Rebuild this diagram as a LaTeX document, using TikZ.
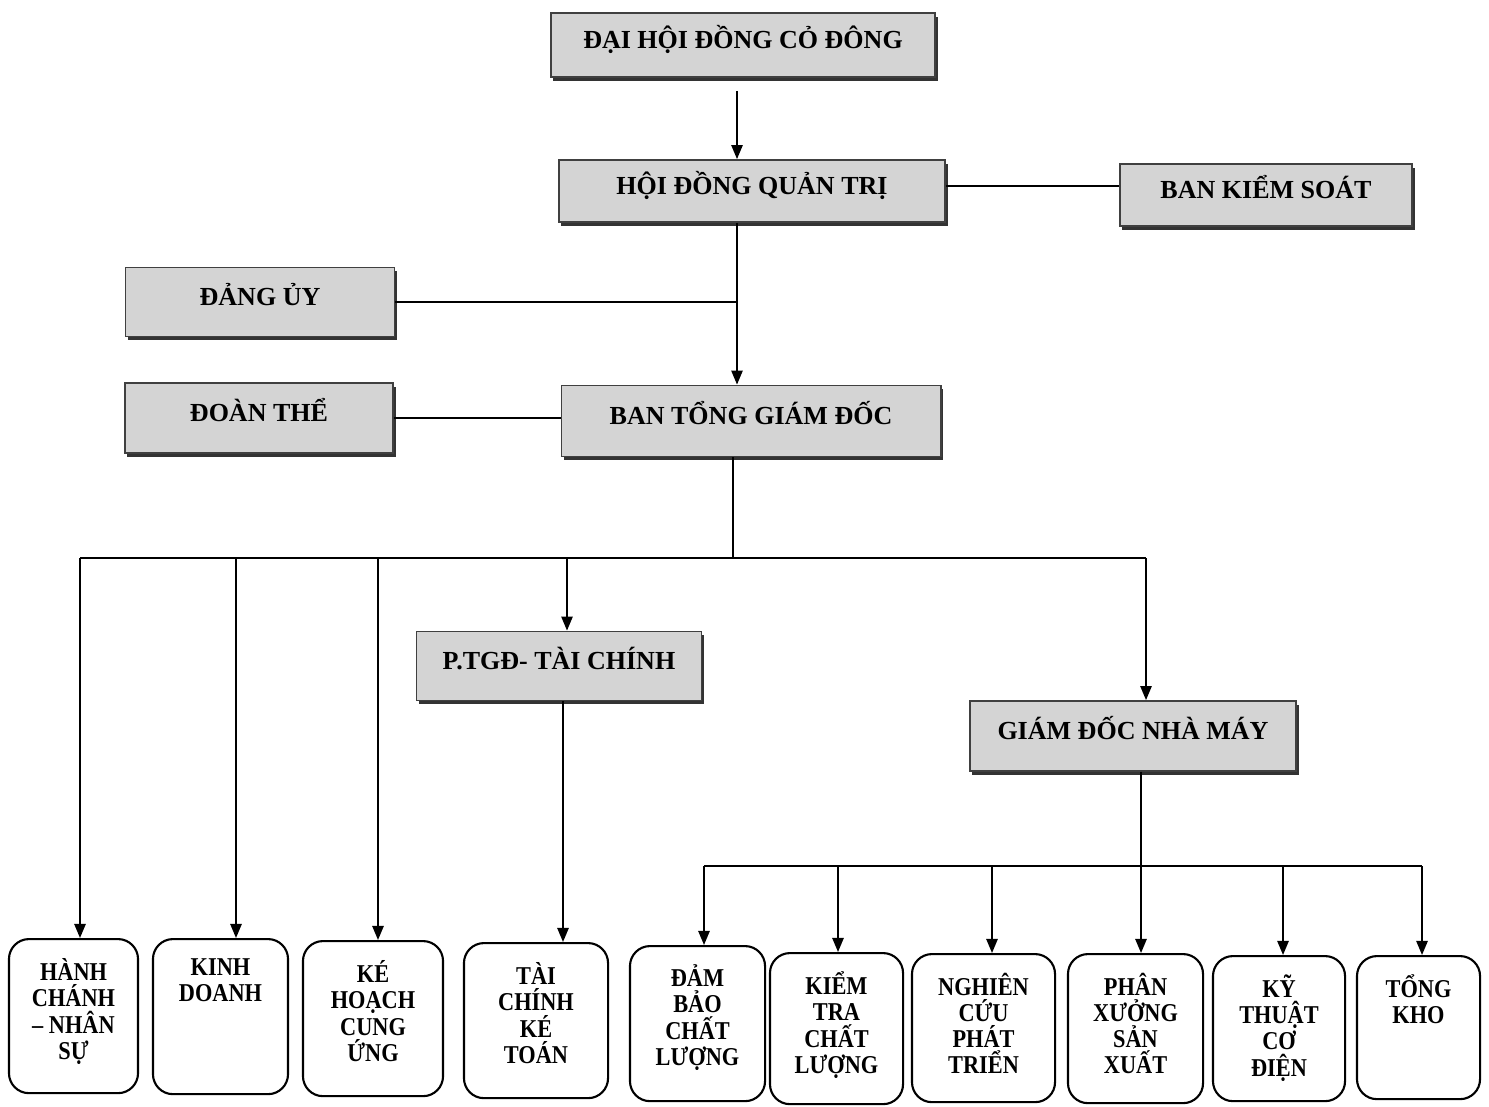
\documentclass[tikz,border=0pt]{standalone}
\usepackage{fontspec}
\setmainfont{Liberation Serif}
\newfontfamily\narrowserif{Liberation Serif}[FakeStretch=0.87]
\usetikzlibrary{arrows.meta,shadows,calc}
\begin{document}
\begin{tikzpicture}[x=0.01cm,y=-0.01cm,
  gbox/.style={draw=black!75, line width=0.5pt, fill=black!17, inner sep=0pt,
    text height=0.17cm, text depth=0.10cm,
    font=\bfseries\fontsize{7.4}{8.5}\selectfont,
    drop shadow={shadow xshift=0.7pt, shadow yshift=-1.1pt, fill=black!80, opacity=1}},
  leaf/.style={draw=black, line width=0.6pt, rounded corners=0.2cm, fill=white, inner sep=0pt, anchor=north},
  leaftext/.style={anchor=north, align=center, inner sep=0pt,
    font=\narrowserif\bfseries\fontsize{7.3}{7.45}\selectfont},
  conn/.style={draw=black, line width=0.55pt},
  arr/.style={conn, -{Triangle[length=4pt,width=3.2pt]}}]
\useasboundingbox (0,0) rectangle (1489,1106);

% gray boxes
\node[gbox, minimum width=3.84cm, minimum height=0.64cm] (dh) at (743,45) {ĐẠI HỘI ĐỒNG CỎ ĐÔNG};
\node[gbox, minimum width=3.86cm, minimum height=0.62cm] (hq) at (752,191) {HỘI ĐỒNG QUẢN TRỊ};
\node[gbox, minimum width=2.92cm, minimum height=0.62cm] (bks) at (1266,195) {BAN KIỂM SOÁT};
\node[gbox, minimum width=2.69cm, minimum height=0.69cm] (du) at (260,302) {ĐẢNG ỦY};
\node[gbox, minimum width=2.68cm, minimum height=0.70cm] (dt) at (259,418) {ĐOÀN THỂ};
\node[gbox, minimum width=3.79cm, minimum height=0.71cm] (bt) at (751,421) {BAN TỔNG GIÁM ĐỐC};
\node[gbox, minimum width=2.85cm, minimum height=0.69cm] (ptc) at (559,666) {P.TGĐ- TÀI CHÍNH};
\node[gbox, minimum width=3.26cm, minimum height=0.70cm] (gd) at (1133,736) {GIÁM ĐỐC NHÀ MÁY};

% bottom boxes
\node[leaf, minimum width=1.29cm, minimum height=1.54cm] (b1) at (73.5,938) {};
\node[leaf, minimum width=1.35cm, minimum height=1.55cm] (b2) at (220.5,938) {};
\node[leaf, minimum width=1.40cm, minimum height=1.55cm] (b3) at (373,940) {};
\node[leaf, minimum width=1.44cm, minimum height=1.55cm] (b4) at (536,942) {};
\node[leaf, minimum width=1.35cm, minimum height=1.55cm] (b5) at (697.5,945) {};
\node[leaf, minimum width=1.33cm, minimum height=1.51cm] (b6) at (836.5,952) {};
\node[leaf, minimum width=1.43cm, minimum height=1.48cm] (b7) at (983.5,953) {};
\node[leaf, minimum width=1.35cm, minimum height=1.49cm] (b8) at (1135.5,953) {};
\node[leaf, minimum width=1.32cm, minimum height=1.45cm] (b9) at (1279,955) {};
\node[leaf, minimum width=1.23cm, minimum height=1.43cm] (b10) at (1418.5,955) {};

\node[leaftext] (t1) at ([yshift=-0.20cm]b1.north) {HÀNH\\CHÁNH\\– NHÂN\\SỰ};
\node[leaftext] (t2) at ([yshift=-0.20cm]b2.north) {KINH\\DOANH};
\node[leaftext] (t3) at ([yshift=-0.20cm]b3.north) {KÉ\\HOẠCH\\CUNG\\ỨNG};
\node[leaftext] (t4) at ([yshift=-0.20cm]b4.north) {TÀI\\CHÍNH\\KÉ\\TOÁN};
\node[leaftext] (t5) at ([yshift=-0.19cm]b5.north) {ĐẢM\\BẢO\\CHẤT\\LƯỢNG};
\node[leaftext] (t6) at ([yshift=-0.19cm]b6.north) {KIỂM\\TRA\\CHẤT\\LƯỢNG};
\node[leaftext] (t7) at ([yshift=-0.19cm]b7.north) {NGHIÊN\\CỨU\\PHÁT\\TRIỂN};
\node[leaftext] (t8) at ([yshift=-0.19cm]b8.north) {PHÂN\\XƯỞNG\\SẢN\\XUẤT};
\node[leaftext] (t9) at ([yshift=-0.19cm]b9.north) {KỸ\\THUẬT\\CƠ\\ĐIỆN};
\node[leaftext] (t10) at ([yshift=-0.19cm]b10.north) {TỔNG\\KHO};

% guide coordinates
\coordinate (v1) at (737,0);
\coordinate (v2) at (733,0);
\coordinate (h1) at (0,186);
\coordinate (bus1) at (0,558);
\coordinate (bus2) at (0,866);
\coordinate (d1) at (80,0);
\coordinate (d2) at (236,0);
\coordinate (d3) at (378,0);
\coordinate (d4) at (567,0);
\coordinate (d5) at (1146,0);
\coordinate (d6) at (563,0);
\coordinate (e1) at (704,0);
\coordinate (e2) at (838,0);
\coordinate (e3) at (992,0);
\coordinate (e4) at (1141,0);
\coordinate (e5) at (1283,0);
\coordinate (e6) at (1422,0);

% connectors top
\draw[arr] ([yshift=-0.13cm]dh.south -| v1) -- (hq.north -| v1);
\draw[conn] (hq.east |- h1) -- (bks.west |- h1);
\draw[arr] (hq.south -| v1) -- (bt.north -| v1);
\draw[conn] (du.east) -- (du.east -| v1);
\draw[conn] (dt.east) -- (dt.east -| bt.west);

% bus from BTGD
\draw[conn] (bt.south -| v2) -- (bus1 -| v2);
\draw[conn] (bus1 -| d1) -- (bus1 -| d5);
\draw[arr] (bus1 -| d1) -- (b1.north -| d1);
\draw[arr] (bus1 -| d2) -- (b2.north -| d2);
\draw[arr] (bus1 -| d3) -- (b3.north -| d3);
\draw[arr] (bus1 -| d4) -- (ptc.north -| d4);
\draw[arr] (bus1 -| d5) -- (gd.north -| d5);
\draw[arr] (ptc.south -| d6) -- (b4.north -| d6);

% bus from GDNM
\draw[conn] (gd.south -| e4) -- (bus2 -| e4);
\draw[conn] (bus2 -| e1) -- (bus2 -| e6);
\draw[arr] (bus2 -| e1) -- (b5.north -| e1);
\draw[arr] (bus2 -| e2) -- (b6.north -| e2);
\draw[arr] (bus2 -| e3) -- (b7.north -| e3);
\draw[arr] (bus2 -| e4) -- (b8.north -| e4);
\draw[arr] (bus2 -| e5) -- (b9.north -| e5);
\draw[arr] (bus2 -| e6) -- (b10.north -| e6);
\end{tikzpicture}
\end{document}
